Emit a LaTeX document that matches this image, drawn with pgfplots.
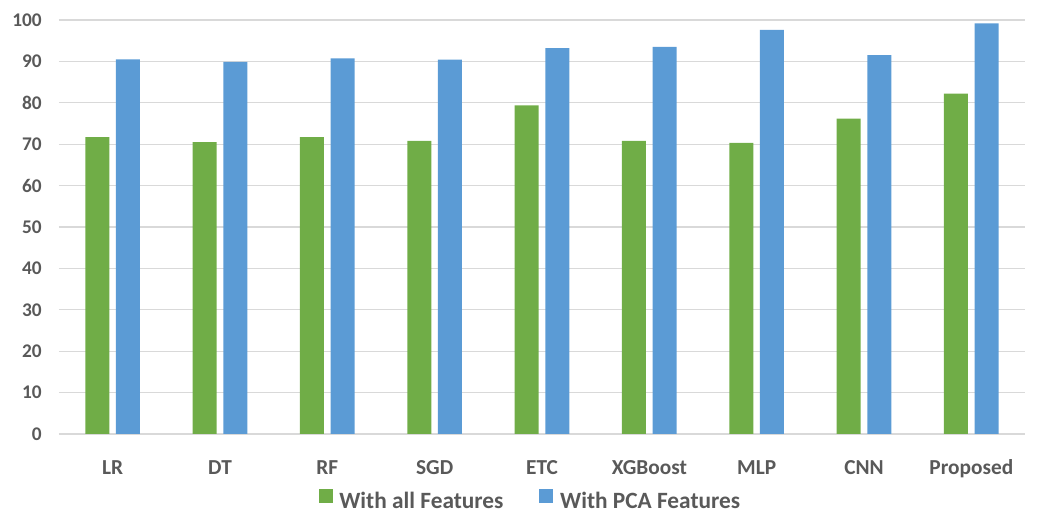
\documentclass[border=0pt]{standalone}
\usepackage{pgfplots}
\pgfplotsset{compat=1.18}
\usepackage{fontspec}
\setmainfont{Carlito}
\definecolor{allgreen}{HTML}{70AD47}
\definecolor{pcablue}{HTML}{5B9BD5}
\definecolor{gridgray}{HTML}{D9D9D9}
\definecolor{labelgray}{HTML}{595959}

\begin{document}
\begin{tikzpicture}
\useasboundingbox (-44.25pt,-60pt) rectangle (744pt,325.5pt);
\begin{axis}[
  at={(0pt,0pt)}, anchor=south west,
  scale only axis,
  width=724.5pt, height=310.5pt,
  ybar=5pt, bar width=18pt,
  ymin=0, ymax=100,
  ytick={0,10,...,100},
  xmin=-0.5, xmax=8.5,
  xtick={0,...,8},
  xticklabels={LR,DT,RF,SGD,ETC,XGBoost,MLP,CNN,Proposed},
  axis line style={draw=none},
  tick style={draw=none},
  ymajorgrids,
  major grid style={gridgray, line width=0.8pt},
  /pgf/number format/assume math mode=true,
  yticklabel style={font=\bfseries\fontsize{14.5}{16}\selectfont, text=labelgray, inner sep=0pt, anchor=east, xshift=-12.75pt},
  xticklabel style={font=\bfseries\fontsize{16}{18}\selectfont, text=labelgray, inner sep=0pt, anchor=base, yshift=-26.25pt},
  legend style={at={(0.487,-0.158)}, anchor=center, draw=none, fill=none,
    legend columns=2, font=\bfseries\fontsize{17.5}{19}\selectfont, text=labelgray,
    /tikz/every even column/.append style={column sep=27pt},
    nodes={inner sep=0pt, outer sep=0pt}},
  legend cell align=left,
  legend image code/.code={\path[#1,draw=none] (0pt,-1.5pt) rectangle (10.5pt,9pt);},
]
\addplot[fill=allgreen, draw=none] coordinates {
  (0,71.7) (1,70.5) (2,71.7) (3,70.8) (4,79.4) (5,70.8) (6,70.3) (7,76.2) (8,82.2)};
\addplot[fill=pcablue, draw=none] coordinates {
  (0,90.5) (1,89.9) (2,90.7) (3,90.4) (4,93.2) (5,93.5) (6,97.6) (7,91.5) (8,99.2)};
\legend{\hspace{5pt}With all Features, \hspace{5pt}With PCA Features}
\end{axis}
\end{tikzpicture}
\end{document}
